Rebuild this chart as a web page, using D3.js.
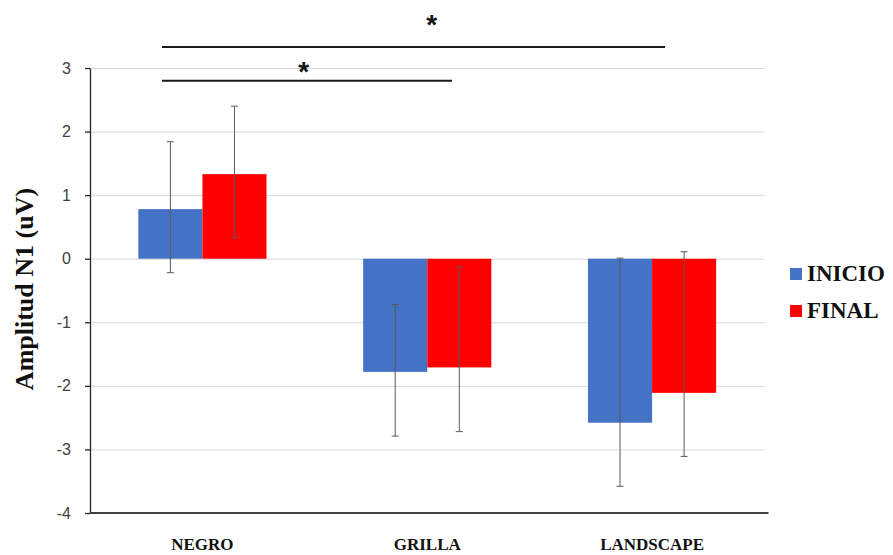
<!DOCTYPE html>
<html>
<head>
	<meta charset="utf-8">
	<title>Amplitud N1</title>
	<script src="https://d3js.org/d3.v7.min.js"></script>
	<style>
		body { margin: 0; background: #fff; }
		svg { display: block; }
		.grid line { stroke: #d9d9d9; stroke-width: 1; }
		.grid path { display: none; }
		.yaxis text { font-family: 'Liberation Sans', Arial, sans-serif; font-size: 16px; fill: #404040; }
		.yaxis path, .yaxis line { stroke: #262626; stroke-width: 1.3; }
		.cat { font-family: 'Liberation Serif', 'Times New Roman', serif; font-weight: bold; font-size: 17px; fill: #111; }
		.ytitle { font-family: 'Liberation Serif', 'Times New Roman', serif; font-weight: bold; font-size: 26px; fill: #111; }
		.legend text { font-family: 'Liberation Serif', 'Times New Roman', serif; font-weight: bold; font-size: 23px; fill: #111; }
		.err { stroke: #595959; stroke-width: 1; }
		.sig { stroke: #1a1a1a; stroke-width: 2; }
		.star { font-family: 'Liberation Sans', Arial, sans-serif; font-weight: bold; font-size: 28px; fill: #111; }
	</style>
</head>
<body>
	<svg width="893" height="555"></svg>
<script>
	// datos
	const categories = [ 'NEGRO', 'GRILLA', 'LANDSCAPE' ];
	const series = [ 'INICIO', 'FINAL' ];
	const colors = [ '#4472c4', '#ff0000' ];
	const inicio = [ 0.78, -1.78, -2.58 ];
	const final = [ 1.33, -1.71, -2.11 ];
	// extremos de las barras de error (abajo / arriba)
	const inicioLow = [ -0.22, -2.79, -3.58 ];
	const inicioHigh = [ 1.84, -0.72, 0.01 ];
	const finalLow = [ 0.33, -2.72, -3.11 ];
	const finalHigh = [ 2.40, -0.13, 0.11 ];
	const yTicks = [ -4, -3, -2, -1, 0, 1, 2, 3 ];
	// lineas de significancia
	const sigFrom = [ 'NEGRO', 'NEGRO' ];
	const sigTo = [ 'GRILLA', 'LANDSCAPE' ];
	const sigLevel = [ 2.8, 3.33 ];

	const svg = d3.select( 'svg' );
	const mLeft = 90, mRight = 764.5, mTop = 68, mBottom = 513;

	const x0 = d3.scaleBand()
		.domain( categories )
		.range( [ mLeft, mRight ] );
	const bw = x0.bandwidth();

	const x1 = d3.scaleBand()
		.domain( series )
		.range( [ bw * 0.215, bw * 0.785 ] );

	const y = d3.scaleLinear()
		.domain( [ -4, 3 ] )
		.range( [ mBottom, mTop ] );

	// grid
	svg.append( 'g' )
		.attr( 'class', 'grid' )
		.attr( 'transform', `translate(${ mLeft },0)` )
		.call( d3.axisLeft( y ).tickValues( yTicks.filter( t => t > -4 ) ).tickSize( -( mRight - mLeft ) ).tickFormat( '' ) );

	const rows = categories.map( ( c, i ) => [
		{ cat: c, s: 'INICIO', v: inicio[ i ], lo: inicioLow[ i ], hi: inicioHigh[ i ], col: colors[ 0 ] },
		{ cat: c, s: 'FINAL', v: final[ i ], lo: finalLow[ i ], hi: finalHigh[ i ], col: colors[ 1 ] }
	] ).flat();

	// barras
	svg.append( 'g' ).selectAll( 'rect' )
		.data( rows )
		.join( 'rect' )
		.attr( 'x', d => x0( d.cat ) + x1( d.s ) )
		.attr( 'width', x1.bandwidth() )
		.attr( 'y', d => y( Math.max( 0, d.v ) ) )
		.attr( 'height', d => Math.abs( y( d.v ) - y( 0 ) ) )
		.attr( 'fill', d => d.col );

	// barras de error
	const eg = svg.append( 'g' ).selectAll( 'g' )
		.data( rows )
		.join( 'g' )
		.attr( 'class', 'err' );
	const cx = d => x0( d.cat ) + x1( d.s ) + x1.bandwidth() / 2;
	eg.append( 'line' )
		.attr( 'x1', cx ).attr( 'x2', cx )
		.attr( 'y1', d => y( d.lo ) ).attr( 'y2', d => y( d.hi ) );
	eg.append( 'line' )
		.attr( 'x1', d => cx( d ) - 3.5 ).attr( 'x2', d => cx( d ) + 3.5 )
		.attr( 'y1', d => y( d.lo ) ).attr( 'y2', d => y( d.lo ) );
	eg.append( 'line' )
		.attr( 'x1', d => cx( d ) - 3.5 ).attr( 'x2', d => cx( d ) + 3.5 )
		.attr( 'y1', d => y( d.hi ) ).attr( 'y2', d => y( d.hi ) );

	// eje y
	svg.append( 'g' )
		.attr( 'class', 'yaxis' )
		.attr( 'transform', `translate(${ mLeft },0)` )
		.call( d3.axisLeft( y ).tickValues( yTicks ).tickFormat( d => String( d ) ).tickSize( 5 ).tickSizeOuter( 0 ).tickPadding( 14 ) );

	// eje x (linea base)
	svg.append( 'line' )
		.attr( 'x1', mLeft ).attr( 'x2', mRight + 4 )
		.attr( 'y1', y( -4 ) ).attr( 'y2', y( -4 ) )
		.attr( 'stroke', '#404040' ).attr( 'stroke-width', 2 );

	svg.append( 'g' ).selectAll( 'text' )
		.data( categories )
		.join( 'text' )
		.attr( 'class', 'cat' )
		.attr( 'x', d => x0( d ) + bw / 2 )
		.attr( 'y', 550 )
		.attr( 'text-anchor', 'middle' )
		.text( d => d );

	svg.append( 'text' )
		.attr( 'class', 'ytitle' )
		.attr( 'transform', 'translate(33,289) rotate(-90)' )
		.attr( 'text-anchor', 'middle' )
		.text( 'Amplitud N1 (uV)' );

	// significancia
	const sigStart = [ 0.32, 0.32 ];
	const sigEnd = [ 0.61, 0.558 ];
	const starPos = [ 0.95, 0.52 ];
	sigLevel.forEach( ( lv, i ) => {
		svg.append( 'line' )
			.attr( 'class', 'sig' )
			.attr( 'x1', x0( sigFrom[ i ] ) + bw * sigStart[ i ] )
			.attr( 'x2', x0( sigTo[ i ] ) + bw * sigEnd[ i ] )
			.attr( 'y1', y( lv ) ).attr( 'y2', y( lv ) );
		const starCat = i === 0 ? sigFrom[ i ] : 'GRILLA';
		svg.append( 'text' )
			.attr( 'class', 'star' )
			.attr( 'x', x0( starCat ) + bw * starPos[ i ] )
			.attr( 'y', y( lv ) + ( i === 0 ? 0 : -13 ) )
			.attr( 'text-anchor', 'middle' )
			.text( '*' );
	} );

	// leyenda
	const lg = svg.append( 'g' )
		.attr( 'class', 'legend' )
		.selectAll( 'g' )
		.data( series )
		.join( 'g' )
		.attr( 'transform', ( d, i ) => `translate(790,${ 268 + i * 37 })` );
	lg.append( 'rect' )
		.attr( 'width', 12 ).attr( 'height', 12 )
		.attr( 'fill', ( d, i ) => colors[ i ] );
	lg.append( 'text' )
		.attr( 'x', 17 ).attr( 'y', 13 )
		.text( d => d );
</script>
</body>
</html>
